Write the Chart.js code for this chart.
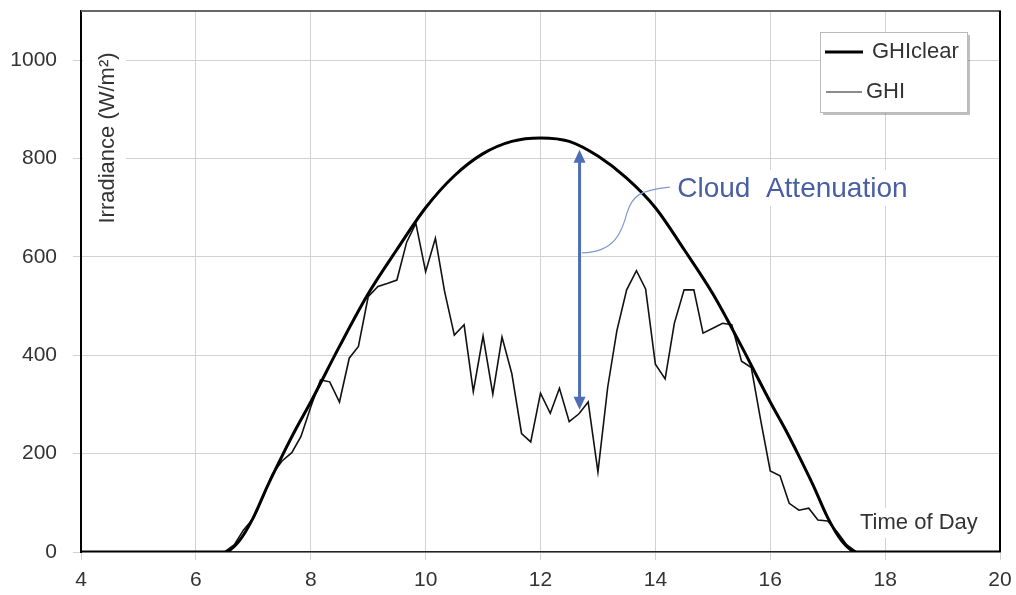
<!DOCTYPE html>
<html>
<head>
<meta charset="utf-8">
<script src="https://cdn.jsdelivr.net/npm/chart.js@4.4.1/dist/chart.umd.min.js"></script>
<style>
  html, body { margin: 0; padding: 0; background: #fff; }
  #wrap { width: 1016px; height: 595px; }
</style>
</head>
<body>
<div id="wrap"><canvas id="myChart" width="1016" height="595"></canvas></div>
<script>
// Clear sky irradiance (W/m2) by time of day
const clearTime  = [4, 6.5, 6.75, 7, 7.25, 7.5, 7.75, 8, 8.5, 9, 9.5, 10, 10.5, 11, 11.5, 12,
                    12.5, 13, 13.5, 14, 14.5, 15, 15.5, 16, 16.25, 16.5, 16.75, 17, 17.25, 17.5, 20];
const clearValue = [0, 0, 22, 70, 135, 195, 252, 305, 418, 525, 615, 700, 765, 810, 835, 842,
                    835, 805, 760, 700, 615, 525, 418, 305, 252, 195, 135, 70, 22, 0, 0];

// Measured irradiance, 10 minute steps
const ghiTime  = [6.5, 6.67, 6.83, 7, 7.17, 7.33, 7.5, 7.67, 7.83, 8, 8.17, 8.33, 8.5, 8.67, 8.83,
                  9, 9.17, 9.33, 9.5, 9.67, 9.83, 10, 10.17, 10.33, 10.5, 10.67, 10.83, 11, 11.17,
                  11.33, 11.5, 11.67, 11.83, 12, 12.17, 12.33, 12.5, 12.67, 12.83, 13, 13.17, 13.33,
                  13.5, 13.67, 13.83, 14, 14.17, 14.33, 14.5, 14.67, 14.83, 15, 15.17, 15.33, 15.5,
                  15.67, 15.83, 16, 16.17, 16.33, 16.5, 16.67, 16.83, 17, 17.17, 17.33, 17.5];
const ghiValue = [0, 15, 45, 68, 112, 158, 185, 202, 235, 295, 350, 346, 305, 394, 418,
                  519, 540, 546, 553, 630, 668, 570, 638, 530, 441, 462, 326, 439, 321,
                  437, 363, 241, 224, 323, 282, 333, 265, 281, 305, 163, 335, 450,
                  533, 572, 535, 382, 352, 465, 533, 533, 445, 455, 465, 462, 388,
                  375, 270, 165, 155, 99, 85, 89, 65, 63, 40, 15, 0];

const xTicks = [4, 6, 8, 10, 12, 14, 16, 18, 20];
const yTicks = [0, 200, 400, 600, 800, 1000];

const seriesNames = ["GHIclear", "GHI"];

// annotation spots, in data units (time, W/m2)
const arrowAt = { t: 12.68, top: 818, bottom: 289 };
const noteAt = { t: 14.38, v: 740 };
const connector = [[12.72, 608], [13.30, 610], [13.42, 651], [13.51, 691], [13.60, 724], [13.73, 736], [14.25, 742]];

const FONT = '"Liberation Sans", Arial, sans-serif';

function toPoints(xs, ys) {
    return xs.map((x, i) => ({ x: x, y: ys[i] }));
}

const overlayPlugin = {
    id: 'overlay',
    afterDraw(chart) {
        const ctx = chart.ctx;
        const a = chart.chartArea;
        const sx = chart.scales.x, sy = chart.scales.y;
        const px = (t) => sx.getPixelForValue(t);
        const py = (v) => sy.getPixelForValue(v);
        ctx.save();

        // frame top / right
        ctx.lineWidth = 2;
        ctx.strokeStyle = '#666';
        ctx.beginPath(); ctx.moveTo(a.left, a.top); ctx.lineTo(a.right + 1, a.top); ctx.stroke();
        ctx.strokeStyle = '#000';
        ctx.beginPath(); ctx.moveTo(a.right, a.top); ctx.lineTo(a.right, a.bottom); ctx.stroke();

        // y title, white box behind
        ctx.fillStyle = '#fff';
        ctx.fillRect(a.left + 2, 44, 43, 188);
        ctx.save();
        ctx.translate(a.left + 27, 138);
        ctx.rotate(-Math.PI / 2);
        ctx.fillStyle = '#333';
        ctx.font = '22px ' + FONT;
        ctx.textAlign = 'center';
        ctx.textBaseline = 'middle';
        ctx.fillText('Irradiance (W/m\u00B2)', 0, 0);
        ctx.restore();

        // x title
        ctx.fillStyle = '#fff';
        ctx.fillRect(855, 508, 128, 30);
        ctx.fillStyle = '#333';
        ctx.font = '22px ' + FONT;
        ctx.textAlign = 'left';
        ctx.textBaseline = 'middle';
        ctx.fillText('Time of Day', 860, 523);

        // legend box
        const lx = 820, ly = 32, lw = 147, lh = 80;
        ctx.fillStyle = 'rgba(0,0,0,0.25)';
        ctx.fillRect(lx + 3, ly + 3, lw, lh);
        ctx.fillStyle = '#fff';
        ctx.fillRect(lx, ly, lw, lh);
        ctx.strokeStyle = '#bbb';
        ctx.lineWidth = 1;
        ctx.strokeRect(lx + 0.5, ly + 0.5, lw, lh);
        ctx.strokeStyle = '#000';
        ctx.lineWidth = 3;
        ctx.beginPath(); ctx.moveTo(825, 52); ctx.lineTo(863, 52); ctx.stroke();
        ctx.strokeStyle = '#666';
        ctx.lineWidth = 1.5;
        ctx.beginPath(); ctx.moveTo(826, 92); ctx.lineTo(862, 92); ctx.stroke();
        ctx.fillStyle = '#333';
        ctx.font = '22px ' + FONT;
        ctx.textBaseline = 'middle';
        ctx.fillText(seriesNames[0], 872, 52);
        ctx.fillText(seriesNames[1], 866, 92);

        // cloud attenuation arrow
        const ax = px(arrowAt.t);
        const ay1 = py(arrowAt.top);
        const ay2 = py(arrowAt.bottom);
        ctx.strokeStyle = '#4f6db6';
        ctx.fillStyle = '#4f6db6';
        ctx.lineWidth = 3;
        ctx.beginPath(); ctx.moveTo(ax, ay1 + 10); ctx.lineTo(ax, ay2 - 10); ctx.stroke();
        ctx.beginPath(); ctx.moveTo(ax, ay1); ctx.lineTo(ax - 6, ay1 + 13); ctx.lineTo(ax + 6, ay1 + 13); ctx.closePath(); ctx.fill();
        ctx.beginPath(); ctx.moveTo(ax, ay2); ctx.lineTo(ax - 6, ay2 - 13); ctx.lineTo(ax + 6, ay2 - 13); ctx.closePath(); ctx.fill();

        // connector
        const c = connector.map(p => [px(p[0]), py(p[1])]);
        ctx.strokeStyle = '#8099d2';
        ctx.lineWidth = 1.2;
        ctx.beginPath();
        ctx.moveTo(c[0][0], c[0][1]);
        ctx.bezierCurveTo(c[1][0], c[1][1], c[2][0], c[2][1], c[3][0], c[3][1]);
        ctx.bezierCurveTo(c[4][0], c[4][1], c[5][0], c[5][1], c[6][0], c[6][1]);
        ctx.stroke();

        const nx = px(noteAt.t);
        const ny = py(noteAt.v);
        ctx.fillStyle = '#fff';
        ctx.fillRect(nx - 3, ny - 18, 242, 36);
        ctx.fillStyle = '#4a5fa3';
        ctx.font = '28px ' + FONT;
        ctx.textAlign = 'left';
        ctx.textBaseline = 'middle';
        ctx.fillText('Cloud  Attenuation', nx, ny + 1);

        ctx.restore();
    }
};

const ctxChart = document.getElementById('myChart');
new Chart(ctxChart, {
    type: 'line',
    data: {
        datasets: [{
            label: seriesNames[0],
            data: toPoints(clearTime, clearValue),
            borderColor: '#000',
            borderWidth: 3,
            pointRadius: 0,
            cubicInterpolationMode: 'monotone',
            fill: false
        }, {
            label: seriesNames[1],
            data: toPoints(ghiTime, ghiValue),
            borderColor: '#111',
            borderWidth: 1.6,
            pointRadius: 0,
            tension: 0,
            fill: false
        }]
    },
    options: {
        responsive: false,
        animation: false,
        devicePixelRatio: 1,
        layout: { padding: { top: 11, right: 16, left: 0, bottom: 0 } },
        plugins: { legend: { display: false }, tooltip: { enabled: false } },
        scales: {
            x: {
                type: 'linear',
                min: 4,
                max: 20,
                afterBuildTicks: (s) => { s.ticks = xTicks.map(v => ({ value: v })); },
                afterFit: (s) => { s.height = 43; s.paddingLeft = 0; s.paddingRight = 0; },
                ticks: { color: '#333', font: { size: 21, family: FONT }, padding: 8, maxRotation: 0,
                         callback: (v) => String(v) },
                grid: { color: '#d2d2d2', lineWidth: 1, tickLength: 8 },
                border: { color: '#222', width: 1.5 }
            },
            y: {
                min: 0,
                max: 1100,
                afterBuildTicks: (s) => { s.ticks = yTicks.map(v => ({ value: v })); },
                afterFit: (s) => { s.width = 81; s.paddingTop = 0; s.paddingBottom = 0; },
                ticks: { color: '#333', font: { size: 21, family: FONT }, padding: 16,
                         callback: (v) => String(v) },
                grid: { color: '#d2d2d2', lineWidth: 1, tickLength: 8 },
                border: { color: '#000', width: 2 }
            }
        }
    },
    plugins: [overlayPlugin]
});
</script>
</body>
</html>
